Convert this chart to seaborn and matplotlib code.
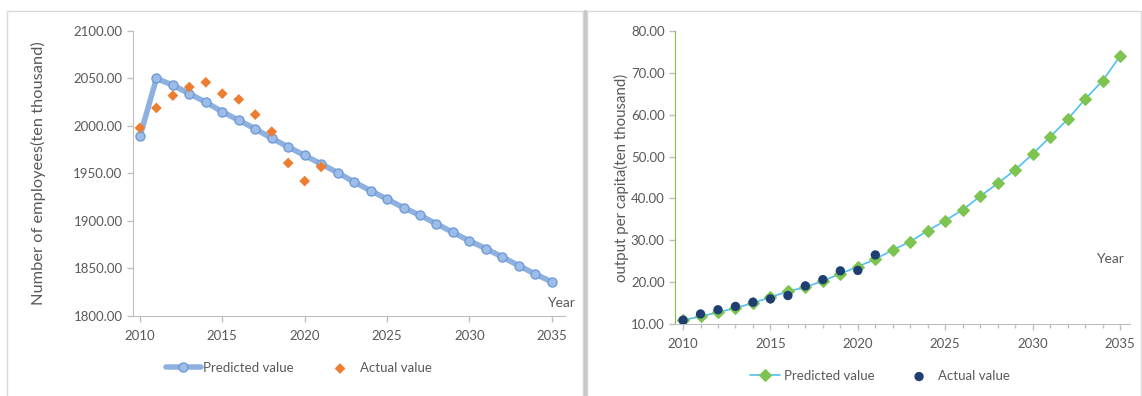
import matplotlib.pyplot as plt
import pandas as pd
import seaborn as sns
from matplotlib.patches import Rectangle
from matplotlib.lines import Line2D
from matplotlib.ticker import MultipleLocator, FormatStrFormatter

# data
years = list(range(2010, 2036))
actual_years = list(range(2010, 2022))

employees_pred = [1989, 2050, 2043, 2034, 2025, 2015, 2006, 1997, 1987, 1978,
                  1969, 1960, 1951, 1941, 1932, 1923, 1914, 1906, 1897, 1888,
                  1879, 1871, 1862, 1853, 1844, 1836]
employees_actual = [1998, 2019, 2032, 2041, 2046, 2034, 2028, 2012, 1994, 1961,
                    1942, 1957]

output_pred = [10.9, 11.8, 12.8, 13.8, 15.0, 16.4, 17.8, 18.8, 20.3, 22.0,
               23.7, 25.5, 27.7, 29.7, 32.3, 34.7, 37.3, 40.5, 43.6, 46.8,
               50.6, 54.7, 58.9, 63.7, 68.1, 74.0]
output_actual = [10.9, 12.4, 13.4, 14.2, 15.2, 16.0, 16.8, 19.1, 20.6, 22.7,
                 22.8, 26.5]

pred_df = pd.DataFrame({'year': years, 'employees': employees_pred, 'output': output_pred})
act_df = pd.DataFrame({'year': actual_years, 'employees': employees_actual, 'output': output_actual})

sns.set_style('white')
plt.rcParams['font.family'] = ['Lato', 'DejaVu Sans']
text_col = '#595959'
axis_col = '#BFBFBF'

fig = plt.figure(figsize=(11.42, 3.96), dpi=100)

# panel frames
fig.add_artist(Rectangle((7 / 1142, -0.05), 576 / 1142, 1.05 - 11 / 396,
                         transform=fig.transFigure, fill=False, ec='#D9D9D9', lw=1))
fig.add_artist(Rectangle((587 / 1142, -0.05), 554 / 1142, 1.05 - 11 / 396,
                         transform=fig.transFigure, fill=False, ec='#D9D9D9', lw=1))
fig.add_artist(Line2D([585 / 1142, 585 / 1142], [0, 1 - 11 / 396],
                      transform=fig.transFigure, color='#C8C8C8', lw=2.5))

# ---------------- left chart ----------------
ax1 = fig.add_axes([133 / 1142, 1 - 316 / 396, 432 / 1142, 285 / 396])
sns.lineplot(x='year', y='employees', data=pred_df, ax=ax1, color='#8FB1E0', lw=4,
             marker='o', markersize=6.5, markerfacecolor='#9DBDE8',
             markeredgecolor='#6F9BD6', markeredgewidth=1, label='Predicted value', zorder=2)
sns.scatterplot(x='year', y='employees', data=act_df, ax=ax1, color='#ED7D31',
                marker='D', s=30, edgecolor='none', label='Actual value', zorder=3)
ax1.set_xlim(2009.58, 2035.8)
ax1.set_ylim(1800, 2100)
ax1.xaxis.set_major_locator(MultipleLocator(5))
ax1.yaxis.set_major_locator(MultipleLocator(50))
ax1.yaxis.set_major_formatter(FormatStrFormatter('%.2f'))
ax1.set_xlabel('')
ax1.set_ylabel('Number of employees(ten thousand)', fontsize=11.8, color=text_col, labelpad=20)
ax1.text(0.99, 0.025, 'Year', transform=ax1.transAxes, ha='center', va='bottom',
         fontsize=10, color=text_col)

# ---------------- right chart ----------------
ax2 = fig.add_axes([675 / 1142, 1 - 324 / 396, 455 / 1142, 293 / 396])
sns.lineplot(x='year', y='output', data=pred_df, ax=ax2, color='#4FC1F0', lw=1.2,
             marker='D', markersize=6, markerfacecolor='#7DC450',
             markeredgecolor='#7DC450', label='Predicted value', zorder=2)
sns.scatterplot(x='year', y='output', data=act_df, ax=ax2, color='#1F3F73',
                marker='o', s=45, edgecolor='none', label='Actual value', zorder=3)
ax2.set_xlim(2009.54, 2035.57)
ax2.set_ylim(10, 80)
ax2.xaxis.set_major_locator(MultipleLocator(5))
ax2.xaxis.set_minor_locator(MultipleLocator(1))
ax2.yaxis.set_major_locator(MultipleLocator(10))
ax2.yaxis.set_major_formatter(FormatStrFormatter('%.2f'))
ax2.set_xlabel('')
ax2.set_ylabel('output per capita(ten thousand)', fontsize=10.8, color=text_col, labelpad=1)
ax2.text(0.956, 0.2, 'Year', transform=ax2.transAxes, ha='center', va='bottom',
         fontsize=10, color=text_col)

for ax in (ax1, ax2):
    sns.despine(ax=ax)
    ax.spines['bottom'].set_color(axis_col)
    ax.spines['left'].set_color(axis_col)
    ax.tick_params(axis='both', which='both', colors=axis_col, labelcolor=text_col,
                   labelsize=9.5, length=4, width=1, direction='out', bottom=True, left=True)
    ax.tick_params(axis='x', pad=6)
    ax.grid(False)
    ax.get_legend().remove()
ax2.spines['left'].set_color('#7DC242')
ax2.tick_params(axis='x', which='minor', length=3)

# legends below each panel
h1, l1 = ax1.get_legend_handles_labels()
fig.legend(h1, l1, loc='center', bbox_to_anchor=(299 / 1142, 1 - 368 / 396), ncol=2,
           frameon=False, fontsize=9.5, labelcolor=text_col, handlelength=2.6,
           handletextpad=0.2, columnspacing=2.2)
h2, l2 = ax2.get_legend_handles_labels()
fig.legend(h2, l2, loc='center', bbox_to_anchor=(880 / 1142, 1 - 376 / 396), ncol=2,
           frameon=False, fontsize=9.5, labelcolor=text_col, handlelength=2.3,
           handletextpad=0.3, columnspacing=2.2)

fig.savefig('out.png', dpi=100)
